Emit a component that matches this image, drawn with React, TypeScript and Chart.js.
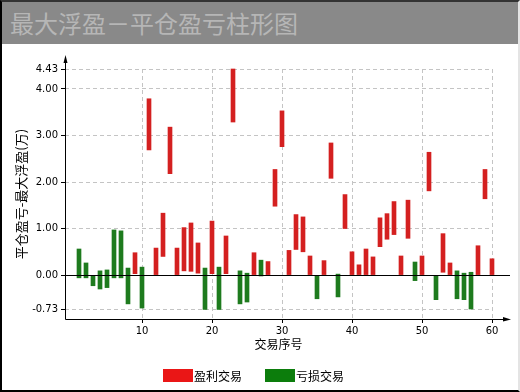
import React, { useEffect, useRef } from 'react';
import { Chart, registerables } from 'chart.js';

Chart.register(...registerables);

// ---- data ----
const tradeNumbers = [
  1, 2, 3, 4, 5, 6, 7, 8, 9, 10,
  11, 12, 13, 14, 15, 16, 17, 18, 19, 20,
  21, 22, 23, 24, 25, 26, 27, 28, 29, 30,
  31, 32, 33, 34, 35, 36, 37, 38, 39, 40,
  41, 42, 43, 44, 45, 46, 47, 48, 49, 50,
  51, 52, 53, 54, 55, 56, 57, 58, 59, 60,
];

// 平仓盈亏 (close P&L, 万)
const closePnl = [
  -0.06, -0.06, -0.23, -0.3, -0.27, -0.06, -0.06, -0.62, 0.03, -0.71,
  2.69, 0.01, 0.4, 2.18, 0.01, 0.09, 0.08, 0.04, -0.74, 0.03,
  -0.74, 0.03, 3.29, -0.62, -0.58, 0.01, -0.02, 0.01, 1.48, 2.76,
  0.01, 0.55, 0.5, 0.01, -0.51, 0.01, 2.08, -0.47, 1.0, 0.01,
  0.01, 0.01, 0.01, 0.61, 0.77, 0.87, 0.01, 0.79, -0.12, 0.01,
  1.81, -0.53, 0.06, 0.01, -0.51, -0.53, -0.73, 0.01, 1.64, 0.01,
];

// 最大浮盈 (max floating profit, 万)
const maxFloatProfit = [
  0.56, 0.26, 0.0, 0.09, 0.11, 0.97, 0.95, 0.15, 0.48, 0.17,
  3.79, 0.58, 1.33, 3.18, 0.58, 1.02, 1.12, 0.69, 0.15, 1.16,
  0.17, 0.84, 4.43, 0.09, 0.04, 0.48, 0.32, 0.29, 2.27, 3.53,
  0.53, 1.3, 1.25, 0.41, 0.0, 0.31, 2.84, 0.02, 1.73, 0.5,
  0.22, 0.56, 0.39, 1.23, 1.32, 1.58, 0.41, 1.61, 0.28, 0.41,
  2.64, 0.0, 0.89, 0.26, 0.09, 0.04, 0.06, 0.63, 2.27, 0.35,
];

const yTickValues = [-0.73, 0, 1, 2, 3, 4, 4.43];
const xTickValues = [10, 20, 30, 40, 50, 60];
const seriesLabels = ['盈利交易', '亏损交易'];
const barColors = ['#d42020', '#1e7b1e'];
const legendColors = ['#ea1616', '#0c7d0c'];

const chartTitle = '最大浮盈－平仓盈亏柱形图';
const xAxisTitle = '交易序号';
const yAxisTitle = '平仓盈亏-最大浮盈(万)';

const axesPlugin = {
  id: 'axesArrows',
  afterDatasetsDraw(chart: any) {
    const { ctx, chartArea } = chart;
    const { left, right, top, bottom } = chartArea;
    const yScale = chart.scales.y;
    const y0 = Math.round(yScale.getPixelForValue(0)) + 0.5;
    const ax = Math.round(left) + 0.5;
    const by = Math.round(bottom) + 0.5;
    const ext = 19;
    ctx.save();
    ctx.strokeStyle = '#000';
    ctx.fillStyle = '#000';
    ctx.lineWidth = 1;
    ctx.setLineDash([]);
    // zero line
    ctx.beginPath();
    ctx.moveTo(ax, y0);
    ctx.lineTo(right + ext - 1, y0);
    ctx.stroke();
    // y axis
    ctx.beginPath();
    ctx.moveTo(ax, by);
    ctx.lineTo(ax, top - 10);
    ctx.stroke();
    ctx.beginPath();
    ctx.moveTo(ax, top - 14);
    ctx.lineTo(ax - 2, top - 6);
    ctx.lineTo(ax + 2, top - 6);
    ctx.closePath();
    ctx.fill();
    // x axis
    ctx.beginPath();
    ctx.moveTo(ax, by);
    ctx.lineTo(right + ext - 4, by);
    ctx.stroke();
    ctx.beginPath();
    ctx.moveTo(right + ext, by);
    ctx.lineTo(right + ext - 8, by - 2.5);
    ctx.lineTo(right + ext - 8, by + 2);
    ctx.closePath();
    ctx.fill();
    ctx.restore();
  },
};

const legendPlugin = {
  id: 'bottomLegend',
  afterDraw(chart: any) {
    const { ctx } = chart;
    ctx.save();
    ctx.font = '12px "Noto Sans CJK SC"';
    ctx.textBaseline = 'middle';
    ctx.textAlign = 'left';
    chart.data.datasets.forEach((ds: any, i: number) => {
      const bx = 161 + i * 102;
      const byTop = 325;
      ctx.fillStyle = legendColors[i];
      ctx.fillRect(bx, byTop, 30, 13);
      ctx.fillStyle = '#000';
      ctx.fillText(ds.label, bx + 31, byTop + 7);
    });
    ctx.restore();
  },
};

export default function App() {
  const canvasRef = useRef<HTMLCanvasElement | null>(null);

  useEffect(() => {
    document.body.style.margin = '0';
    const canvas = canvasRef.current;
    if (!canvas) return;

    const profitData: any[] = [];
    const lossData: any[] = [];
    tradeNumbers.forEach((n, i) => {
      const point = { x: n, y: [closePnl[i], maxFloatProfit[i]] };
      if (closePnl[i] > 0) profitData.push(point);
      else lossData.push(point);
    });

    const tickFont = { family: 'DejaVu Sans', size: 10 };

    const chart = new Chart(canvas, {
      type: 'bar',
      data: {
        datasets: [
          {
            label: seriesLabels[0],
            data: profitData,
            backgroundColor: barColors[0],
            borderWidth: 0,
            barThickness: 4,
            grouped: false,
            clip: false,
          },
          {
            label: seriesLabels[1],
            data: lossData,
            backgroundColor: barColors[1],
            borderWidth: 0,
            barThickness: 4,
            grouped: false,
            clip: false,
          },
        ],
      } as any,
      options: {
        responsive: false,
        animation: false,
        devicePixelRatio: 1,
        layout: { padding: { left: 0, right: 26, top: 25, bottom: 38 } },
        plugins: {
          legend: { display: false },
          tooltip: { enabled: false },
          title: { display: false },
        },
        scales: {
          x: {
            type: 'linear',
            min: -1,
            max: 60,
            offset: false,
            afterBuildTicks: (s: any) => {
              s.ticks = xTickValues.map((v) => ({ value: v }));
            },
            afterFit: (s: any) => {
              s.height = 33;
            },
            grid: {
              offset: false,
              color: '#c4c4c4',
              lineWidth: 1,
              drawTicks: true,
              tickLength: 4,
              tickColor: '#000',
            },
            border: { display: false, dash: [4, 3] },
            ticks: {
              autoSkip: false,
              maxRotation: 0,
              padding: 2,
              color: '#000',
              font: tickFont,
              callback: (v: any) => String(v),
            },
            title: {
              display: true,
              text: xAxisTitle,
              color: '#000',
              font: { family: 'Noto Sans CJK SC', size: 12 },
              padding: 0,
            },
          },
          y: {
            type: 'linear',
            min: -0.945,
            max: 4.43,
            afterBuildTicks: (s: any) => {
              s.ticks = yTickValues.map((v) => ({ value: v }));
            },
            afterFit: (s: any) => {
              s.width = 63;
            },
            grid: {
              color: '#c4c4c4',
              lineWidth: 1,
              drawTicks: true,
              tickLength: 4,
              tickColor: '#000',
            },
            border: { display: false, dash: [4, 3] },
            ticks: {
              autoSkip: false,
              padding: 3,
              color: '#000',
              font: tickFont,
              callback: (v: any) => Number(v).toFixed(2),
            },
            title: {
              display: true,
              text: yAxisTitle,
              color: '#000',
              font: { family: 'Noto Sans CJK SC', size: 13 },
              padding: { top: 11, bottom: 0 },
            },
          },
        },
      } as any,
      plugins: [axesPlugin, legendPlugin],
    });

    return () => {
      chart.destroy();
    };
  }, []);

  return (
    <div
      style={{
        width: 520,
        height: 392,
        boxSizing: 'border-box',
        borderLeft: '2px solid #000',
        borderTop: '2px solid #333',
        borderBottom: '2px solid #000',
        borderRight: '2px solid #e4e4e4',
        background: '#fff',
        overflow: 'hidden',
      }}
    >
      <div
        style={{
          height: 42,
          background: '#898989',
          color: '#b6b6b6',
          fontFamily: '"Noto Sans CJK SC", sans-serif',
          fontSize: 24,
          lineHeight: '42px',
          paddingLeft: 8,
          whiteSpace: 'nowrap',
        }}
      >
        {chartTitle}
      </div>
      <canvas ref={canvasRef} width={516} height={346} style={{ display: 'block' }} />
    </div>
  );
}
